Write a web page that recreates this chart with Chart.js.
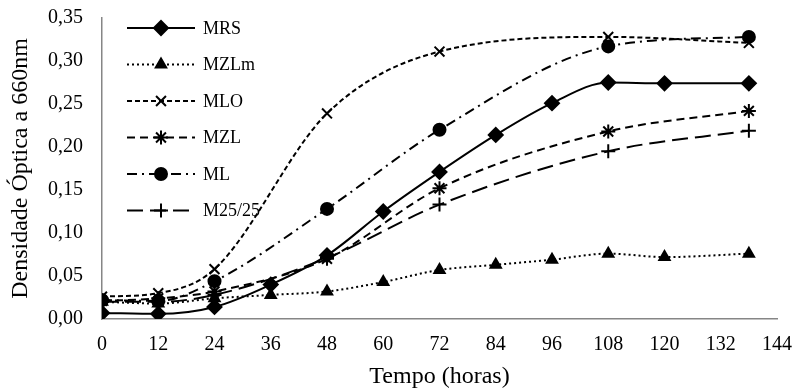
<!DOCTYPE html>
<html>
<head>
<meta charset="utf-8">
<script src="https://cdn.jsdelivr.net/npm/chart.js@4"></script>
<style>
  html, body { margin: 0; padding: 0; background: #fff; }
  #wrap { width: 794px; height: 388px; }
</style>
</head>
<body>
<div id="wrap"><canvas id="growthChart" width="794" height="388"></canvas></div>
<script>
// sampling times (horas)
const fullTimes = [0, 12, 24, 36, 48, 60, 72, 84, 96, 108, 120, 138];
const sparseTimes = [0, 12, 24, 48, 72, 108, 138];

// densidade optica a 660nm
const mrs = [0.007, 0.006, 0.014, 0.040, 0.074, 0.125, 0.171, 0.214, 0.251, 0.275, 0.274, 0.274];
const mzlm = [0.020, 0.018, 0.024, 0.028, 0.032, 0.043, 0.057, 0.063, 0.069, 0.076, 0.072, 0.076];
const mlo = [0.026, 0.030, 0.058, 0.239, 0.311, 0.328, 0.321];
const mzl = [0.021, 0.024, 0.032, 0.070, 0.152, 0.218, 0.242];
const ml = [0.022, 0.021, 0.044, 0.128, 0.220, 0.317, 0.328];
const m2525 = [0.020, 0.020, 0.028, 0.071, 0.133, 0.195, 0.219];

const xTicks = [0, 12, 24, 36, 48, 60, 72, 84, 96, 108, 120, 132, 144];

const pts = (xs, ys) => ys.map((y, i) => ({ x: xs[i], y: y }));
const serif = '"Liberation Serif", "Times New Roman", serif';

function series(label, xs, ys, dash, style, radius, width) {
  return {
    label: label,
    data: pts(xs, ys),
    borderColor: '#000',
    backgroundColor: '#000',
    borderWidth: width || 2,
    borderDash: dash,
    pointStyle: style,
    pointRadius: radius,
    pointBorderWidth: 2,
    pointBorderColor: '#000',
    pointBackgroundColor: '#000',
    tension: 0.4,
    cubicInterpolationMode: 'monotone',
    fill: false
  };
}

// legend drawn inside the plot, top left
const innerLegend = {
  id: 'innerLegend',
  afterDraw(chart) {
    const ctx = chart.ctx;
    const x0 = 127, len = 68, gap = 36.5;
    let y = 28;
    chart.data.datasets.forEach(ds => {
      ctx.save();
      ctx.strokeStyle = '#000';
      ctx.lineWidth = ds.borderWidth;
      ctx.setLineDash(ds.borderDash || []);
      ctx.beginPath();
      ctx.moveTo(x0, y);
      ctx.lineTo(x0 + len, y);
      ctx.stroke();
      ctx.setLineDash([]);
      Chart.helpers.drawPoint(ctx, {
        pointStyle: ds.pointStyle,
        radius: ds.pointRadius,
        rotation: 0,
        borderWidth: ds.pointBorderWidth
      }, x0 + len / 2, y);
      ctx.fillStyle = '#000';
      ctx.font = '18px ' + serif;
      ctx.textBaseline = 'middle';
      ctx.fillText(ds.label, x0 + len + 8, y + 1);
      ctx.restore();
      y += gap;
    });
  }
};

new Chart(document.getElementById('growthChart'), {
  type: 'line',
  data: {
    datasets: [
      series('MRS', fullTimes, mrs, [], 'rectRot', 7, 2),
      series('MZLm', fullTimes, mzlm, [2, 3], 'triangle', 6, 2),
      series('MLO', sparseTimes, mlo, [5, 3], 'crossRot', 7, 2),
      series('MZL', sparseTimes, mzl, [8, 5], 'star', 7, 2),
      series('ML', sparseTimes, ml, [10, 5, 2, 5], 'circle', 6, 2),
      series('M25/25', sparseTimes, m2525, [16, 7], 'cross', 7, 2)
    ]
  },
  options: {
    responsive: false,
    animation: false,
    layout: { padding: { top: 18, right: 17, bottom: 0, left: 0 } },
    plugins: {
      legend: { display: false },
      tooltip: { enabled: false }
    },
    scales: {
      x: {
        type: 'linear',
        min: 0,
        max: 144,
        afterBuildTicks(axis) { axis.ticks = xTicks.map(v => ({ value: v })); },
        afterFit(axis) {
          axis.height = 69;
          axis.paddingLeft = 0;
          axis.paddingRight = 0;
        },
        grid: { display: false, drawOnChartArea: false, drawTicks: true, tickLength: 6, color: '#868686' },
        border: { color: '#868686', width: 1.5 },
        ticks: { color: '#000', font: { family: serif, size: 20 }, padding: 8, maxRotation: 0 },
        title: { display: true, text: 'Tempo (horas)', color: '#000', font: { family: serif, size: 24, lineHeight: 1 }, padding: { top: 0, bottom: -1 } }
      },
      y: {
        min: 0,
        max: 0.35,
        afterFit(axis) {
          axis.width = 102;
          axis.paddingTop = 0;
          axis.paddingBottom = 0;
        },
        grid: { display: false, drawOnChartArea: false, drawTicks: true, tickLength: 6, color: '#868686' },
        border: { color: '#868686', width: 1.5 },
        ticks: {
          stepSize: 0.05,
          color: '#000',
          font: { family: serif, size: 20 },
          padding: 13,
          callback: v => v.toFixed(2).replace('.', ',')
        },
        title: { display: true, text: 'Densidade Óptica a 660nm', color: '#000', font: { family: serif, size: 24 }, padding: { top: 6, bottom: 0 } }
      }
    }
  },
  plugins: [innerLegend]
});
</script>
</body>
</html>
